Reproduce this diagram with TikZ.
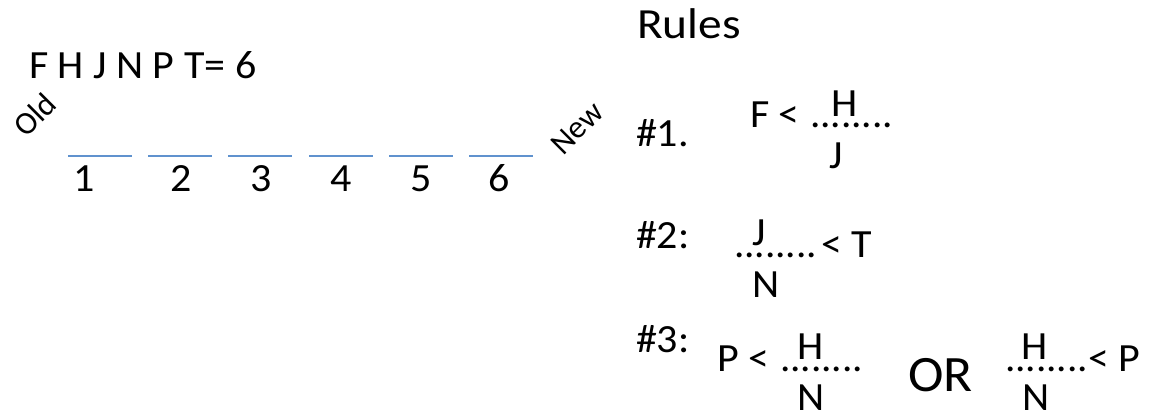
\documentclass[tikz,border=0pt]{standalone}
\usepackage{fontspec}
\setmainfont{Carlito}
\definecolor{slotblue}{RGB}{96,146,206}
\begin{document}
\begin{tikzpicture}[x=1pt,y=-1pt,
  txt/.style={inner sep=0pt, outer sep=0pt, anchor=base west, xscale=1.05, font=\fontsize{40}{42}\selectfont},
  dots/.style={txt, xscale=0.98},
  big/.style={txt, font=\fontsize{51}{53}\selectfont},
  rot/.style={inner sep=0pt, anchor=center, rotate=45, font=\fontsize{32}{34}\selectfont},
  slot/.style={draw=slotblue, line width=2pt},
  num/.style={inner sep=0pt, anchor=base, xscale=1.05, font=\fontsize{40}{42}\selectfont}]
\fill[white] (0,0) rectangle (1150,414);
\useasboundingbox (0,0) rectangle (1150,414);
% left part
\node[txt] (title) at (29,79) {F H J N P T= 6};
\node[rot] (old) at (35,115) {Old};
\node[rot] (new) at (577,128) {New};
\foreach \i/\x in {1/68,2/148,3/228,4/309,5/389,6/469}{
  \draw[slot] (\x,156) -- ++(64,0);
}
\node[num] (n1) at (84,191) {1};
\node[num] (n2) at (181,191) {2};
\node[num] (n3) at (261,191) {3};
\node[num] (n4) at (341,191) {4};
\node[num] (n5) at (421,191) {5};
\node[num] (n6) at (499,191) {6};
% rules
\node[txt, xscale=1.05, font=\fontsize{43}{45}\selectfont] (rules) at (637,39) {Rules};
\node[txt] (r1) at (636,147) {\#1.};
\node[txt] (r1a) at (750,128) {F <};
\node[dots] (r1d) at (810,128) {........};
\node[txt] (r1h) at (831,117) {H};
\node[txt] (r1j) at (829,168) {J};
\node[txt] (r2) at (636,248) {\#2:};
\node[txt] (r2j) at (752,245) {J};
\node[dots] (r2d) at (734,257) {........};
\node[txt] (r2b) at (821,257) {< T};
\node[txt] (r2n) at (752,297) {N};
\node[txt] (r3) at (636,352) {\#3:};
\node[txt] (r3a) at (717,371) {P <};
\node[dots] (r3d) at (780,371) {........};
\node[txt] (r3h) at (797,359) {H};
\node[txt] (r3n) at (797,410) {N};
\node[big] (or) at (908,391) {OR};
\node[dots] (r3d2) at (1005,371) {........};
\node[txt] (r3h2) at (1021,359) {H};
\node[txt] (r3b) at (1088,371) {< P};
\node[txt] (r3n2) at (1022,410) {N};
\end{tikzpicture}
\end{document}
